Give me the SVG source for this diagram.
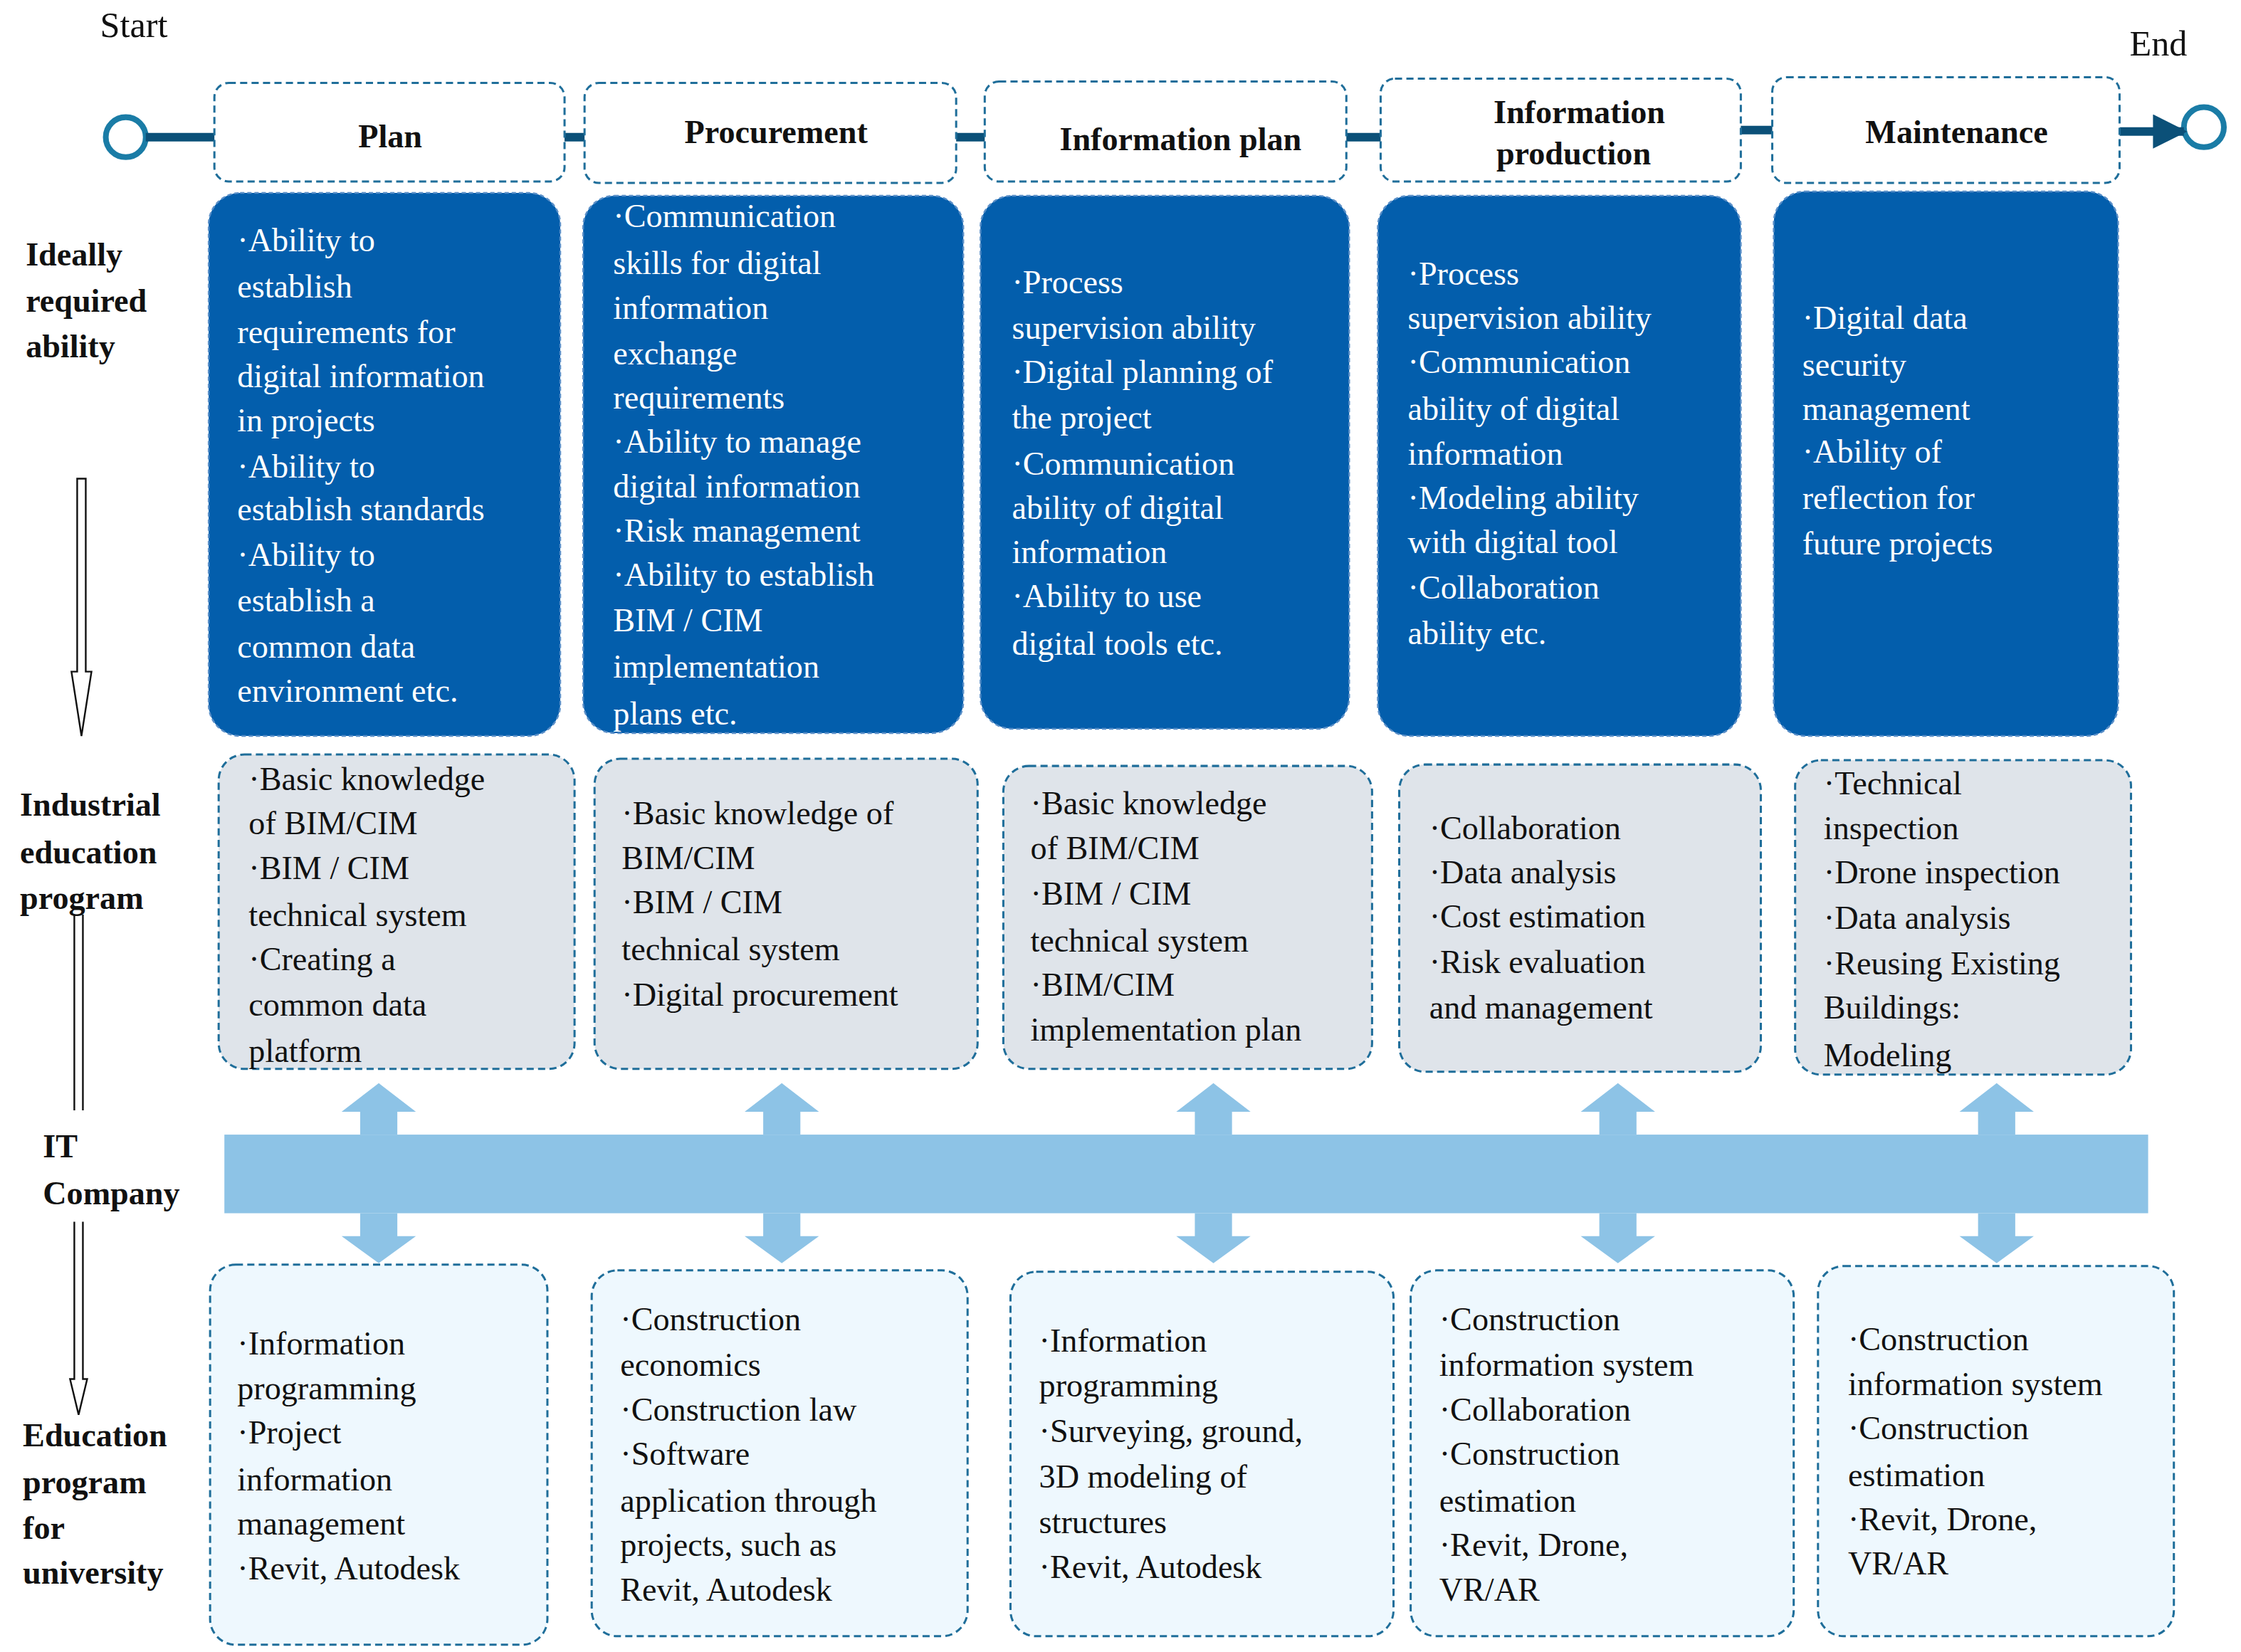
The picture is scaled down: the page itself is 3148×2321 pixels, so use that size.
<svg xmlns="http://www.w3.org/2000/svg" width="3148" height="2321" viewBox="0 0 3148 2321">
<style>
text{font-family:"Liberation Serif","Times New Roman",serif;font-size:23px;fill:#111}
.h{font-weight:bold}
.w{fill:#fff}
.hd{fill:#fff;stroke:#1F6E9A;stroke-width:1.5;stroke-dasharray:5 3}
.dk{fill:#035EAC;stroke:#5A8FC8;stroke-width:1.2;stroke-dasharray:3 2}
.gr{fill:#DFE4EA;stroke:#1F6E9A;stroke-width:1.5;stroke-dasharray:5 3}
.lt{fill:#EEF8FE;stroke:#1F6E9A;stroke-width:1.5;stroke-dasharray:5 3}
.fl{stroke:#0B5078;stroke-width:6;fill:none}
.ba{fill:#8DC3E6}
</style>
<defs>
<marker id="ah" viewBox="0 0 10 10" refX="9" refY="5" markerWidth="4" markerHeight="4" orient="auto" markerUnits="strokeWidth"><path d="M0,0L10,5L0,10Z" fill="#0B5078"/></marker>
</defs>
<rect width="3148" height="2321" fill="#fff"/>
<g transform="scale(2.0077)">
<g id="labels">
<text x="70" y="26" style="font-size:25px">Start</text>
<text x="1490" y="39" style="font-size:25px">End</text>
<text class="h" x="18" y="186">Ideally</text><text class="h" x="18" y="218">required</text><text class="h" x="18" y="250">ability</text>
<text class="h" x="14" y="571">Industrial</text><text class="h" x="14" y="604">education</text><text class="h" x="14" y="636">program</text>
<text class="h" x="30" y="810">IT</text><text class="h" x="30" y="843">Company</text>
<text class="h" x="16" y="1012">Education</text><text class="h" x="16" y="1045">program</text><text class="h" x="16" y="1077">for</text><text class="h" x="16" y="1108">university</text>
</g>
<g id="side-arrows" fill="#fff" stroke="#111" stroke-width="1.2">
<path d="M54,335H60V470H64L57,515L50,470H54Z"/>
<path d="M52,640V777M58,640V777" fill="none"/>
<path d="M52,855V965H49L55,990L61,965H58V855" />
</g>
<g id="connectors">
<circle cx="88" cy="96" r="14" fill="none" stroke="#1A7CA6" stroke-width="4"/>
<circle cx="1542" cy="89" r="14" fill="none" stroke="#1A7CA6" stroke-width="4"/>
<line class="fl" x1="102" y1="96" x2="205" y2="96" marker-end="url(#ah)"/>
<line class="fl" x1="338" y1="96" x2="435" y2="96" marker-end="url(#ah)"/>
<line class="fl" x1="641" y1="96" x2="732" y2="96" marker-end="url(#ah)"/>
<line class="fl" x1="928" y1="96" x2="1018" y2="96" marker-end="url(#ah)"/>
<line class="fl" x1="1187" y1="91" x2="1265" y2="91" marker-end="url(#ah)"/>
<line class="fl" x1="1483" y1="92" x2="1528" y2="92" marker-end="url(#ah)"/>
</g>
<g id="it-bar">
<rect class="ba" x="157" y="794" width="1346" height="55"/>
<path class="ba" d="M252,794V778H239L265,758L291,778H278V794ZM252,849V865H239L265,884L291,865H278V849Z"/>
<path class="ba" d="M534,794V778H521L547,758L573,778H560V794ZM534,849V865H521L547,884L573,865H560V849Z"/>
<path class="ba" d="M836,794V778H823L849,758L875,778H862V794ZM836,849V865H823L849,884L875,865H862V849Z"/>
<path class="ba" d="M1119,794V778H1106L1132,758L1158,778H1145V794ZM1119,849V865H1106L1132,884L1158,865H1145V849Z"/>
<path class="ba" d="M1384,794V778H1371L1397,758L1423,778H1410V794ZM1384,849V865H1371L1397,884L1423,865H1410V849Z"/>
</g>
<g id="plan"><rect class="hd" x="150" y="58" width="245" height="69" rx="10"/><text class="h" x="273" y="103" text-anchor="middle">Plan</text></g>
<g id="procurement"><rect class="hd" x="409" y="58" width="260" height="70" rx="10"/><text class="h" x="543" y="100" text-anchor="middle">Procurement</text></g>
<g id="info-plan"><rect class="hd" x="689" y="57" width="253" height="70" rx="10"/><text class="h" x="826" y="105" text-anchor="middle">Information plan</text></g>
<g id="info-production"><rect class="hd" x="966" y="55" width="252" height="72" rx="10"/><text class="h" x="1105" y="86" text-anchor="middle">Information</text><text class="h" x="1101" y="115" text-anchor="middle">production</text></g>
<g id="maintenance"><rect class="hd" x="1240" y="54" width="243" height="74" rx="10"/><text class="h" x="1369" y="100" text-anchor="middle">Maintenance</text></g>
<g id="ability-plan"><rect class="dk" x="146" y="135" width="246" height="380" rx="22"/>
<text class="w" x="166"><tspan x="166" y="176">·Ability  to</tspan><tspan x="166" y="208">establish</tspan><tspan x="166" y="240">requirements  for</tspan><tspan x="166" y="271">digital  information</tspan><tspan x="166" y="302">in  projects</tspan><tspan x="166" y="334">·Ability  to</tspan><tspan x="166" y="364">establish  standards</tspan><tspan x="166" y="396">·Ability  to</tspan><tspan x="166" y="428">establish  a</tspan><tspan x="166" y="460">common  data</tspan><tspan x="166" y="491">environment  etc.</tspan></text></g>
<g id="ability-procurement"><rect class="dk" x="408" y="137" width="266" height="376" rx="22"/>
<text class="w"><tspan x="429" y="159">·Communication</tspan><tspan x="429" y="192">skills  for  digital</tspan><tspan x="429" y="223">information</tspan><tspan x="429" y="255">exchange</tspan><tspan x="429" y="286">requirements</tspan><tspan x="429" y="317">·Ability  to  manage</tspan><tspan x="429" y="348">digital  information</tspan><tspan x="429" y="379">·Risk  management</tspan><tspan x="429" y="410">·Ability  to  establish</tspan><tspan x="429" y="442">BIM / CIM</tspan><tspan x="429" y="474">implementation</tspan><tspan x="429" y="507">plans  etc.</tspan></text></g>
<g id="ability-info-plan"><rect class="dk" x="686" y="137" width="258" height="373" rx="22"/>
<text class="w"><tspan x="708" y="205">·Process</tspan><tspan x="708" y="237">supervision  ability</tspan><tspan x="708" y="268">·Digital  planning  of</tspan><tspan x="708" y="300">the  project</tspan><tspan x="708" y="332">·Communication</tspan><tspan x="708" y="363">ability  of  digital</tspan><tspan x="708" y="394">information</tspan><tspan x="708" y="425">·Ability  to  use</tspan><tspan x="708" y="458">digital  tools  etc.</tspan></text></g>
<g id="ability-info-production"><rect class="dk" x="964" y="137" width="254" height="378" rx="22"/>
<text class="w"><tspan x="985" y="199">·Process</tspan><tspan x="985" y="230">supervision  ability</tspan><tspan x="985" y="261">·Communication</tspan><tspan x="985" y="294">ability  of  digital</tspan><tspan x="985" y="325">information</tspan><tspan x="985" y="356">·Modeling  ability</tspan><tspan x="985" y="387">with  digital  tool</tspan><tspan x="985" y="419">·Collaboration</tspan><tspan x="985" y="451">ability  etc.</tspan></text></g>
<g id="ability-maintenance"><rect class="dk" x="1241" y="134" width="241" height="381" rx="22"/>
<text class="w"><tspan x="1261" y="230">·Digital  data</tspan><tspan x="1261" y="263">security</tspan><tspan x="1261" y="294">management</tspan><tspan x="1261" y="324">·Ability  of</tspan><tspan x="1261" y="356">reflection  for</tspan><tspan x="1261" y="388">future  projects</tspan></text></g>
<g id="ind-plan"><rect class="gr" x="153" y="528" width="249" height="220" rx="18"/>
<text><tspan x="174" y="553">·Basic  knowledge</tspan><tspan x="174" y="584">of  BIM/CIM</tspan><tspan x="174" y="615">·BIM / CIM</tspan><tspan x="174" y="648">technical  system</tspan><tspan x="174" y="679">·Creating  a</tspan><tspan x="174" y="711">common  data</tspan><tspan x="174" y="743">platform</tspan></text></g>
<g id="ind-procurement"><rect class="gr" x="416" y="531" width="268" height="217" rx="18"/>
<text><tspan x="435" y="577">·Basic  knowledge  of</tspan><tspan x="435" y="608">BIM/CIM</tspan><tspan x="435" y="639">·BIM / CIM</tspan><tspan x="435" y="672">technical  system</tspan><tspan x="435" y="704">·Digital  procurement</tspan></text></g>
<g id="ind-info-plan"><rect class="gr" x="702" y="536" width="258" height="212" rx="18"/>
<text><tspan x="721" y="570">·Basic  knowledge</tspan><tspan x="721" y="601">of  BIM/CIM</tspan><tspan x="721" y="633">·BIM / CIM</tspan><tspan x="721" y="666">technical  system</tspan><tspan x="721" y="697">·BIM/CIM</tspan><tspan x="721" y="728">implementation  plan</tspan></text></g>
<g id="ind-info-production"><rect class="gr" x="979" y="535" width="253" height="215" rx="18"/>
<text><tspan x="1000" y="587">·Collaboration</tspan><tspan x="1000" y="618">·Data  analysis</tspan><tspan x="1000" y="649">·Cost  estimation</tspan><tspan x="1000" y="681">·Risk  evaluation</tspan><tspan x="1000" y="713">and  management</tspan></text></g>
<g id="ind-maintenance"><rect class="gr" x="1256" y="532" width="235" height="220" rx="18"/>
<text><tspan x="1276" y="556">·Technical</tspan><tspan x="1276" y="587">inspection</tspan><tspan x="1276" y="618">·Drone  inspection</tspan><tspan x="1276" y="650">·Data  analysis</tspan><tspan x="1276" y="682">·Reusing  Existing</tspan><tspan x="1276" y="713">Buildings:</tspan><tspan x="1276" y="746">Modeling</tspan></text></g>
<g id="uni-plan"><rect class="lt" x="147" y="885" width="236" height="266" rx="18"/>
<text><tspan x="166" y="948">·Information</tspan><tspan x="166" y="979">programming</tspan><tspan x="166" y="1010">·Project</tspan><tspan x="166" y="1043">information</tspan><tspan x="166" y="1074">management</tspan><tspan x="166" y="1105">·Revit,  Autodesk</tspan></text></g>
<g id="uni-procurement"><rect class="lt" x="414" y="889" width="263" height="256" rx="18"/>
<text><tspan x="434" y="931">·Construction</tspan><tspan x="434" y="963">economics</tspan><tspan x="434" y="994">·Construction  law</tspan><tspan x="434" y="1025">·Software</tspan><tspan x="434" y="1058">application  through</tspan><tspan x="434" y="1089">projects,  such  as</tspan><tspan x="434" y="1120">Revit,  Autodesk</tspan></text></g>
<g id="uni-info-plan"><rect class="lt" x="707" y="890" width="268" height="255" rx="18"/>
<text><tspan x="727" y="946">·Information</tspan><tspan x="727" y="977">programming</tspan><tspan x="727" y="1009">·Surveying,  ground,</tspan><tspan x="727" y="1041">3D modeling  of</tspan><tspan x="727" y="1073">structures</tspan><tspan x="727" y="1104">·Revit,  Autodesk</tspan></text></g>
<g id="uni-info-production"><rect class="lt" x="987" y="889" width="268" height="256" rx="18"/>
<text><tspan x="1007" y="931">·Construction</tspan><tspan x="1007" y="963">information  system</tspan><tspan x="1007" y="994">·Collaboration</tspan><tspan x="1007" y="1025">·Construction</tspan><tspan x="1007" y="1058">estimation</tspan><tspan x="1007" y="1089">·Revit,  Drone,</tspan><tspan x="1007" y="1120">VR/AR</tspan></text></g>
<g id="uni-maintenance"><rect class="lt" x="1272" y="886" width="249" height="259" rx="18"/>
<text><tspan x="1293" y="945">·Construction</tspan><tspan x="1293" y="976">information  system</tspan><tspan x="1293" y="1007">·Construction</tspan><tspan x="1293" y="1040">estimation</tspan><tspan x="1293" y="1071">·Revit,  Drone,</tspan><tspan x="1293" y="1102">VR/AR</tspan></text></g>
</g>
</svg>
